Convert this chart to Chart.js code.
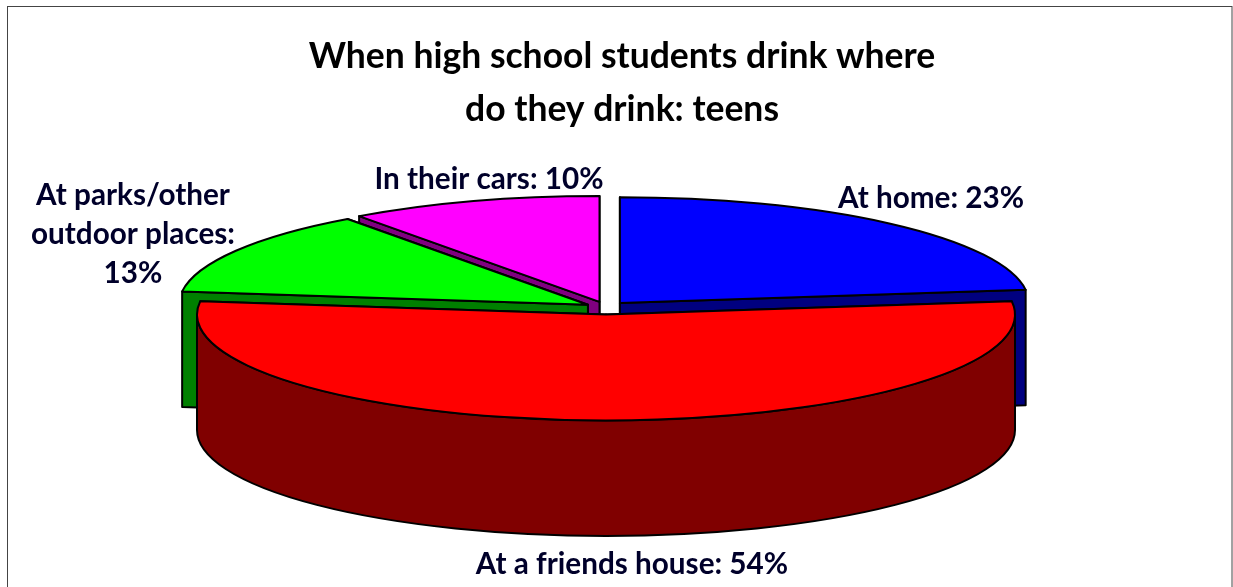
<!DOCTYPE html>
<html>
<head>
<meta charset="utf-8">
<title>When high school students drink</title>
<script src="https://cdn.jsdelivr.net/npm/chart.js@4/dist/chart.umd.min.js"></script>
<style>
    html, body { margin: 0; padding: 0; background: #fff; overflow: hidden; }
    canvas { display: block; }
</style>
</head>
<body>
<canvas id="pieChart" width="1233" height="587"></canvas>
<script>
// ============================================
// DATA
// ============================================

const categories = ['At home', 'At a friends house', 'At parks/other outdoor places', 'In their cars'];
const shares = [23, 54, 13, 10];
const topColors = ['#0000ff', '#ff0000', '#00ff00', '#ff00ff'];
const sideColors = ['#000080', '#800000', '#008000', '#800080'];
const titleLines = ['When high school students drink where', 'do they drink: teens'];

// ============================================
// 3D LOOK
// ============================================

const PIE = { cx: 606, cy: 308, radius: 409, tilt: 0.259, depth: 115.5, explode: 21, explodeY: 6.5 };
const DRAW_ORDER = [3, 2, 0, 1];   // back slices first, the big red one on top

function sliceGeometry(arc) {
    const mid = (arc.startAngle + arc.endAngle) / 2;
    return {
        x: PIE.cx + Math.cos(mid) * PIE.explode,
        y: PIE.cy + Math.sin(mid) * PIE.explodeY,
        rx: arc.outerRadius,
        ry: arc.outerRadius * PIE.tilt
    };
}

function drawWall(ctx, g, angle, color) {
    const px = g.x + Math.cos(angle) * g.rx;
    const py = g.y + Math.sin(angle) * g.ry;
    ctx.beginPath();
    ctx.moveTo(g.x, g.y);
    ctx.lineTo(px, py);
    ctx.lineTo(px, py + PIE.depth);
    ctx.lineTo(g.x, g.y + PIE.depth);
    ctx.closePath();
    ctx.fillStyle = color;
    ctx.fill();
    ctx.stroke();
}

function drawRim(ctx, g, arc, color) {
    // only the part of the rim that faces the viewer
    const from = Math.max(arc.startAngle, 0);
    const to = Math.min(arc.endAngle, Math.PI);
    if (to <= from) return;
    ctx.beginPath();
    ctx.ellipse(g.x, g.y, g.rx, g.ry, 0, from, to);
    ctx.ellipse(g.x, g.y + PIE.depth, g.rx, g.ry, 0, to, from, true);
    ctx.closePath();
    ctx.fillStyle = color;
    ctx.fill();
    ctx.stroke();
}

const pie3dPlugin = {
    id: 'pie3d',
    beforeDraw(chart) {
        const ctx = chart.ctx;
        ctx.save();
        ctx.strokeStyle = '#444444';
        ctx.lineWidth = 1;
        ctx.strokeRect(7.5, 6.5, 1224.5, 620);
        ctx.restore();
    },
    beforeDatasetsDraw(chart) {
        const ctx = chart.ctx;
        const arcs = chart.getDatasetMeta(0).data;

        DRAW_ORDER.forEach(i => {
            const arc = arcs[i];
            const g = sliceGeometry(arc);

            ctx.save();
            ctx.strokeStyle = '#000';
            ctx.lineWidth = 2;
            ctx.lineJoin = 'round';

            // side walls, the one lying further back first
            [arc.startAngle, arc.endAngle]
                .sort((a, b) => Math.sin(a) - Math.sin(b))
                .forEach(a => drawWall(ctx, g, a, sideColors[i]));
            drawRim(ctx, g, arc, sideColors[i]);

            // top face comes from the library's own arc element
            ctx.save();
            ctx.translate(g.x, g.y);
            ctx.scale(1, PIE.tilt);
            ctx.translate(-arc.x, -arc.y);
            arc.draw(ctx);
            ctx.restore();

            ctx.beginPath();
            ctx.moveTo(g.x, g.y);
            ctx.ellipse(g.x, g.y, g.rx, g.ry, 0, arc.startAngle, arc.endAngle);
            ctx.closePath();
            ctx.stroke();
            ctx.restore();
        });

        drawLabels(ctx);
        return false;
    }
};

// ============================================
// LABELS
// ============================================

function drawLabels(ctx) {
    const slots = [
        { x: 931, y: 198, lines: [`${categories[0]}: ${shares[0]}%`] },
        { x: 632, y: 564, lines: [`${categories[1]}: ${shares[1]}%`] },
        { x: 133, y: 195, lines: ['At parks/other', 'outdoor places:', `${shares[2]}%`] },
        { x: 489, y: 179, lines: [`${categories[3]}: ${shares[3]}%`] }
    ];
    ctx.save();
    ctx.font = 'bold 29.7px Lato';
    ctx.fillStyle = '#00002a';
    ctx.textAlign = 'center';
    ctx.textBaseline = 'middle';
    slots.forEach(slot => {
        slot.lines.forEach((line, n) => {
            ctx.fillText(line, slot.x, slot.y + n * 39);
        });
    });
    ctx.restore();
}

// ============================================
// CHART
// ============================================

new Chart(document.getElementById('pieChart'), {
    type: 'pie',
    data: {
        labels: categories,
        datasets: [{
            data: shares,
            backgroundColor: topColors,
            borderWidth: 0,
            radius: PIE.radius
        }]
    },
    options: {
        responsive: false,
        animation: false,
        events: [],
        layout: { padding: { left: 11 } },
        plugins: {
            legend: { display: false },
            tooltip: { enabled: false },
            title: {
                display: true,
                text: titleLines,
                color: '#000',
                font: { family: 'Lato', size: 35.5, weight: 'bold', lineHeight: 1.49 },
                padding: { top: 30, bottom: 0 }
            }
        }
    },
    plugins: [pie3dPlugin]
});
</script>
</body>
</html>
